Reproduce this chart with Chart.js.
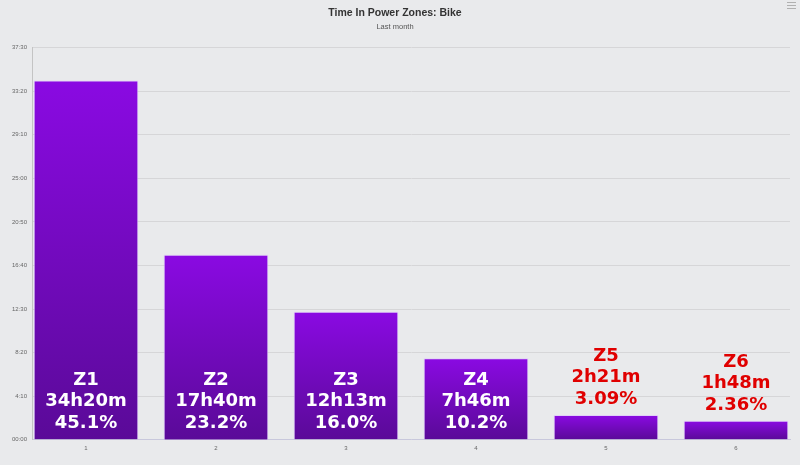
<!DOCTYPE html>
<html>
<head>
<meta charset="utf-8">
<script src="https://cdn.jsdelivr.net/npm/chart.js@4/dist/chart.umd.min.js"></script>
<style>
  html, body { margin: 0; padding: 0; background: #e9eaec; }
  #wrap { width: 800px; height: 465px; }
</style>
</head>
<body>
<div id="wrap"><canvas id="zonesChart" width="800" height="465"></canvas></div>
<script>
// data (minutes in each zone)
const zoneIndex = [1, 2, 3, 4, 5, 6];
const zoneNames = ['Z1', 'Z2', 'Z3', 'Z4', 'Z5', 'Z6'];
const zoneMinutes = [2060, 1060, 733, 466, 141, 108];
const zoneDurations = ['34h20m', '17h40m', '12h13m', '7h46m', '2h21m', '1h48m'];
const zonePercents = ['45.1%', '23.2%', '16.0%', '10.2%', '3.09%', '2.36%'];
const yTickLabels = ['00:00', '4:10', '8:20', '12:30', '16:40', '20:50', '25:00', '29:10', '33:20', '37:30'];

const points = zoneIndex.map((x, i) => ({ x: x, y: zoneMinutes[i] }));

function barGradient(ctx) {
    const chart = ctx.chart;
    if (!chart.chartArea || !ctx.raw) return '#7a0cc8';
    const y = chart.scales.y;
    const top = y.getPixelForValue(ctx.raw.y);
    const bottom = y.getPixelForValue(0);
    const g = chart.ctx.createLinearGradient(0, top, 0, bottom);
    g.addColorStop(0, '#8a0ae2');
    g.addColorStop(1, '#5a0a98');
    return g;
}

// zone labels: inside the bar at its foot, or above it when the bar is too short
const zoneLabels = {
    id: 'zoneLabels',
    afterDatasetsDraw(chart) {
        const ctx = chart.ctx;
        const meta = chart.getDatasetMeta(0);
        const lineH = 21.5;
        ctx.save();
        ctx.font = 'bold 18px "DejaVu Sans", Verdana, sans-serif';
        ctx.textAlign = 'center';
        ctx.textBaseline = 'middle';
        meta.data.forEach((bar, i) => {
            const h = bar.base - bar.y;
            const inside = h > 80;
            const anchor = inside ? bar.base : bar.y;
            ctx.fillStyle = inside ? '#ffffff' : '#e00000';
            const lines = [zoneNames[i], zoneDurations[i], zonePercents[i]];
            lines.forEach((t, k) => {
                ctx.fillText(t, bar.x, anchor - 16 - (2 - k) * lineH);
            });
        });
        ctx.restore();
    }
};

// little export menu icon top right
const menuIcon = {
    id: 'menuIcon',
    afterDraw(chart) {
        const ctx = chart.ctx;
        ctx.save();
        ctx.strokeStyle = '#b0b0b0';
        ctx.lineWidth = 1;
        [2.5, 5.5, 8.5].forEach(y => {
            ctx.beginPath();
            ctx.moveTo(787, y);
            ctx.lineTo(796, y);
            ctx.stroke();
        });
        ctx.restore();
    }
};

new Chart(document.getElementById('zonesChart'), {
    type: 'bar',
    data: {
        datasets: [{
            data: points,
            backgroundColor: barGradient,
            borderColor: 'rgba(220,190,255,0.6)',
            borderWidth: 1,
            barThickness: 104
        }]
    },
    options: {
        responsive: false,
        animation: false,
        layout: { padding: { left: 0, right: 10, top: 0, bottom: 8 } },
        scales: {
            x: {
                type: 'linear',
                offset: false,
                bounds: 'data',
                min: 1 - 54 / 130,
                max: 6 + 54 / 130,
                grid: { display: false, drawTicks: false },
                border: { color: '#c8c8dc' },
                afterBuildTicks: (scale) => { scale.ticks = zoneIndex.map(v => ({ value: v })); },
                ticks: {
                    padding: 5,
                    color: '#666',
                    font: { family: 'Liberation Sans, Arial, sans-serif', size: 6 },
                    callback: (v) => String(v)
                }
            },
            y: {
                min: 0,
                max: 2250,
                afterFit: (scale) => { scale.width = 32; },
                grid: { color: '#d6d6d8', drawTicks: false },
                border: { color: '#c4c4c4' },
                ticks: {
                    stepSize: 250,
                    padding: 5,
                    color: '#666',
                    font: { family: 'Liberation Sans, Arial, sans-serif', size: 6 },
                    callback: (v) => yTickLabels[Math.round(v / 250)]
                }
            }
        },
        plugins: {
            legend: { display: false },
            tooltip: { enabled: false },
            title: {
                display: true,
                text: 'Time In Power Zones: Bike',
                color: '#333',
                font: { family: 'Liberation Sans, Arial, sans-serif', size: 10.5, weight: 'bold' },
                padding: { top: 7, bottom: 3 }
            },
            subtitle: {
                display: true,
                text: 'Last month',
                color: '#555',
                font: { family: 'Liberation Sans, Arial, sans-serif', size: 7.5 },
                padding: { top: 0, bottom: 16 }
            }
        }
    },
    plugins: [zoneLabels, menuIcon]
});
</script>
</body>
</html>
